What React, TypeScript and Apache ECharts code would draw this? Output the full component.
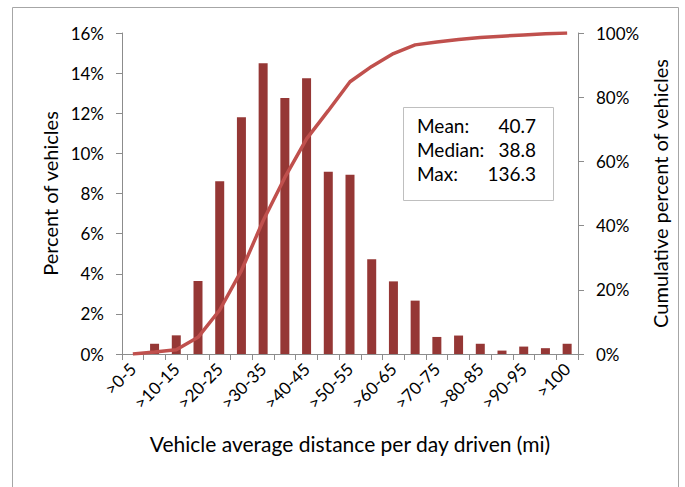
import React, { useEffect, useRef } from "react";
import * as echarts from "echarts";

const categories = [
  ">0-5", ">5-10", ">10-15", ">15-20", ">20-25", ">25-30", ">30-35", ">35-40",
  ">40-45", ">45-50", ">50-55", ">55-60", ">60-65", ">65-70", ">70-75", ">75-80",
  ">80-85", ">85-90", ">90-95", ">95-100", ">100",
];
const percentVehicles = [
  0, 0.51, 0.93, 3.64, 8.61, 11.8, 14.49, 12.76, 13.74, 9.09, 8.94, 4.72, 3.62,
  2.66, 0.85, 0.92, 0.51, 0.17, 0.37, 0.29, 0.51,
];
const cumulativePercent = [
  0, 0.6, 1.3, 5.2, 13.7, 26, 41.5, 55, 67, 75.8, 84.8, 89.6, 93.6, 96.3, 97.2,
  98.0, 98.6, 99.0, 99.4, 99.8, 100,
];
const statLabels = ["Mean:", "Median:", "Max:"];
const statValues = ["40.7", "38.8", "136.3"];

const FONT = "Lato, 'Noto Sans', sans-serif";

export default function App() {
  const ref = useRef<HTMLDivElement>(null);
  useEffect(() => {
    if (!ref.current) return;
    const chart = echarts.init(ref.current, undefined, { renderer: "svg" });
    const axisLineStyle = { color: "#8c8c8c", width: 1 };
    const statTexts: any[] = [];
    statLabels.forEach((l, i) => {
      statTexts.push({
        type: "text",
        left: 417,
        top: 116 + i * 24,
        style: { text: l, font: `19px ${FONT}`, fill: "#000" },
      });
      statTexts.push({
        type: "text",
        right: 685 - 536,
        top: 116 + i * 24,
        style: { text: statValues[i], font: `19px ${FONT}`, fill: "#000" },
      });
    });
    chart.setOption({
      animation: false,
      backgroundColor: "#fff",
      textStyle: { fontFamily: FONT },
      grid: { left: 122, right: 107, top: 33, bottom: 133 },
      xAxis: {
        type: "category",
        data: categories,
        boundaryGap: true,
        name: "Vehicle average distance per day driven (mi)",
        nameLocation: "middle",
        nameGap: 79,
        nameTextStyle: { fontSize: 21, color: "#000", fontFamily: FONT },
        axisLine: { lineStyle: axisLineStyle },
        axisTick: { show: true, interval: 0, length: 6, lineStyle: axisLineStyle },
        axisLabel: {
          interval: 1,
          rotate: 45,
          margin: 12,
          fontSize: 17,
          color: "#000",
          fontFamily: FONT,
        },
      },
      yAxis: [
        {
          type: "value",
          min: 0,
          max: 16,
          interval: 2,
          position: "left",
          name: "Percent of vehicles",
          nameLocation: "middle",
          nameRotate: 90,
          nameGap: 61,
          nameTextStyle: { fontSize: 20, color: "#000", fontFamily: FONT },
          axisLine: { show: true, lineStyle: axisLineStyle },
          axisTick: { show: true, length: 6, lineStyle: axisLineStyle },
          axisLabel: {
            formatter: "{value}%",
            margin: 18,
            fontSize: 17,
            color: "#000",
            fontFamily: FONT,
          },
          splitLine: { show: false },
        },
        {
          type: "value",
          min: 0,
          max: 100,
          interval: 20,
          position: "right",
          name: "Cumulative percent of vehicles",
          nameLocation: "middle",
          nameRotate: 90,
          nameGap: 61,
          nameTextStyle: { fontSize: 20, color: "#000", fontFamily: FONT },
          axisLine: { show: true, lineStyle: axisLineStyle },
          axisTick: { show: true, length: 6, lineStyle: axisLineStyle },
          axisLabel: {
            formatter: "{value}%",
            margin: 18,
            fontSize: 17,
            color: "#000",
            fontFamily: FONT,
          },
          splitLine: { show: false },
        },
      ],
      series: [
        {
          type: "bar",
          yAxisIndex: 0,
          data: percentVehicles,
          barWidth: 9,
          itemStyle: { color: "#953735" },
        },
        {
          type: "line",
          yAxisIndex: 1,
          data: cumulativePercent,
          symbol: "none",
          lineStyle: { color: "#C0504D", width: 3.5 },
          z: 3,
        },
      ],
      graphic: [
        {
          type: "rect",
          left: 10,
          top: 5,
          shape: { width: 666, height: 500 },
          style: { fill: "none", stroke: "#a6a6a6", lineWidth: 1 },
          silent: true,
        },
        {
          type: "rect",
          left: 403,
          top: 107,
          shape: { width: 150, height: 93 },
          style: { fill: "#fff", stroke: "#bfbfbf", lineWidth: 1 },
          z: 10,
        },
        ...statTexts.map((t) => ({ ...t, z: 11 })),
      ],
    });
    return () => chart.dispose();
  }, []);
  return (
    <div
      ref={ref}
      style={{ position: "fixed", left: 0, top: 0, width: 685, height: 487 }}
    />
  );
}
